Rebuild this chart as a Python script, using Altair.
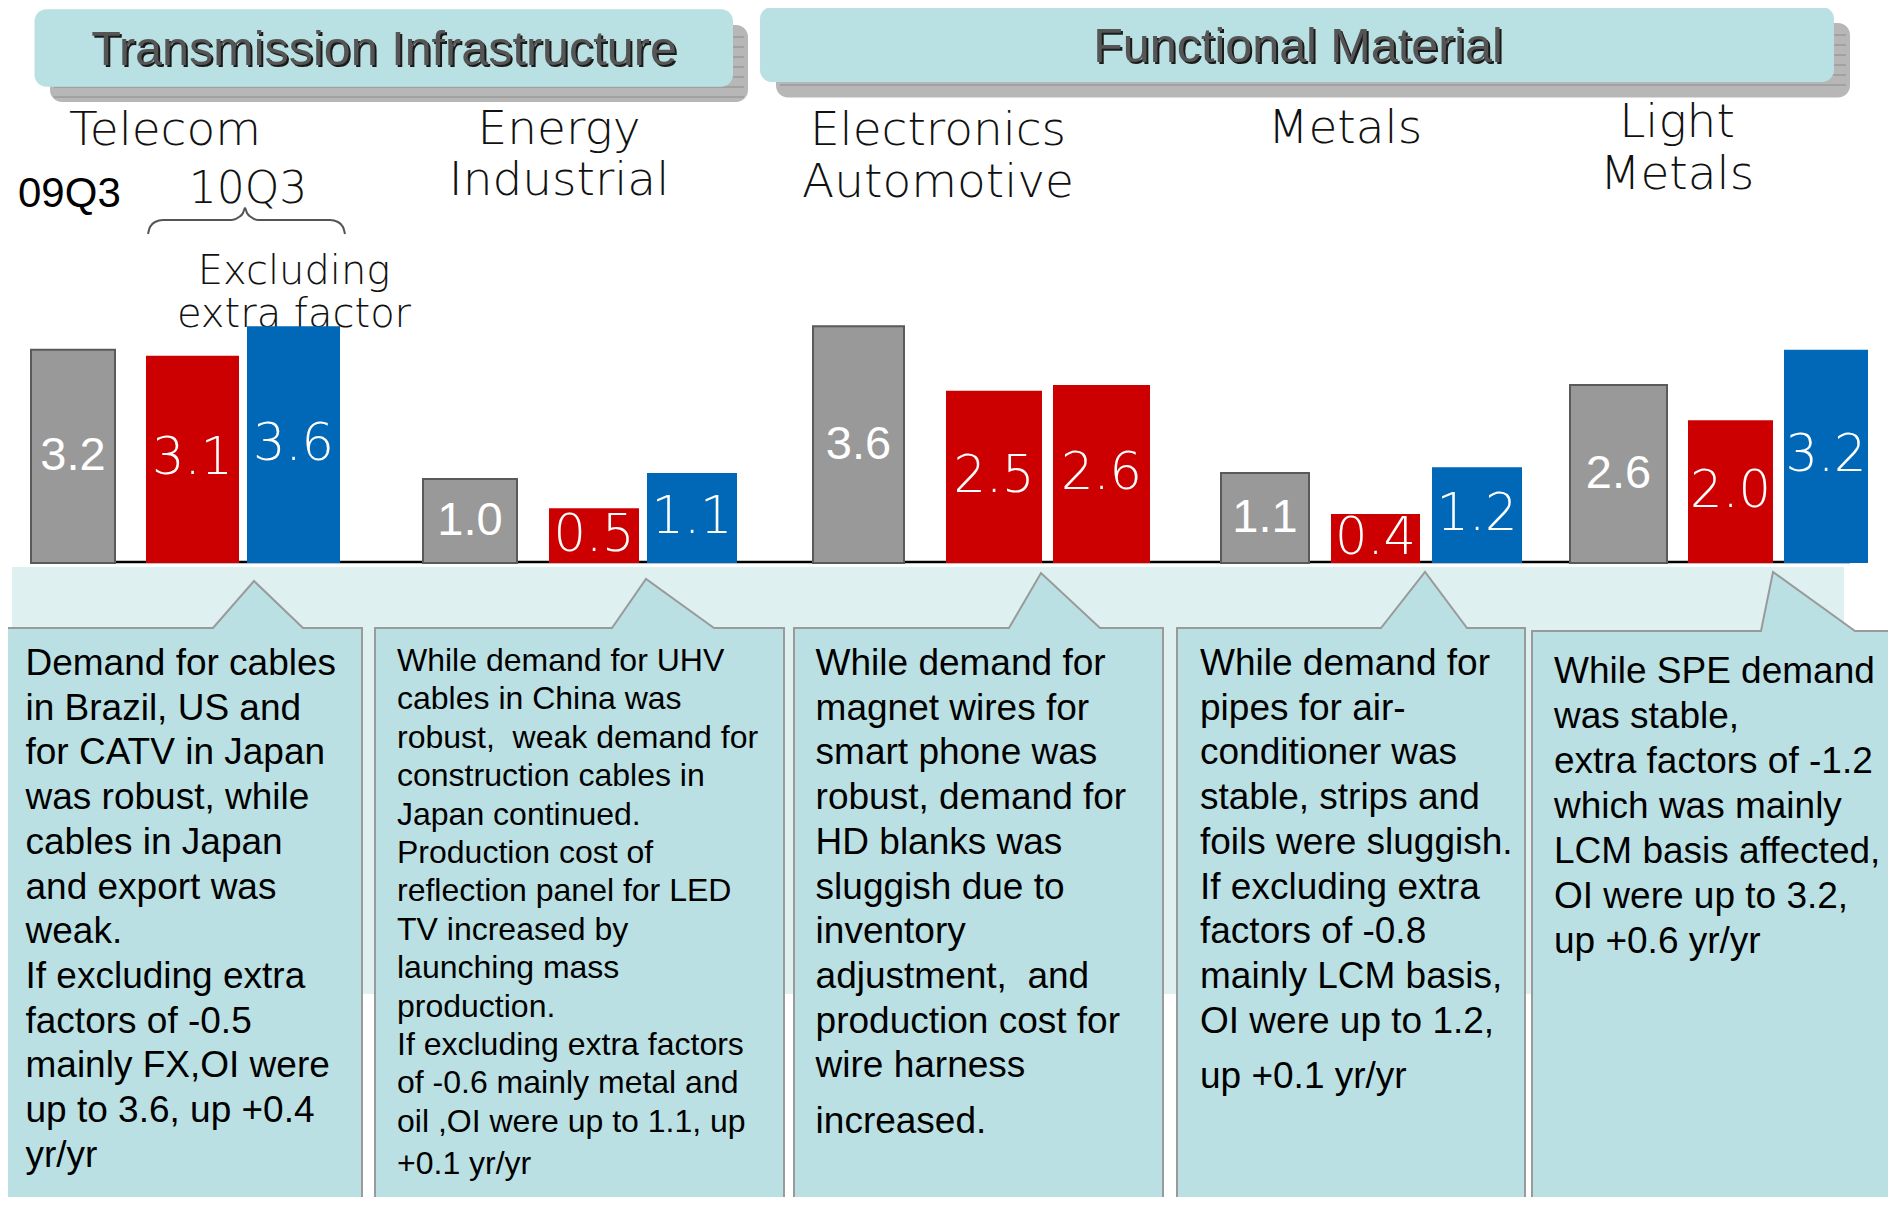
import altair as alt
import pandas as pd

# ---------------- data ----------------
SECTION_TITLES = ["Transmission Infrastructure", "Functional Material"]
GROUP_LINES = [["Telecom"], ["Energy", "Industrial"], ["Electronics", "Automotive"],
               ["Metals"], ["Light", "Metals"]]
PERIOD_LABELS = ["09Q3", "10Q3"]
NOTE_LINES = ["Excluding", "extra factor"]

BAR_GROUP = ["Telecom"] * 3 + ["Energy Industrial"] * 3 + ["Electronics Automotive"] * 3 \
    + ["Metals"] * 3 + ["Light Metals"] * 3
BAR_SERIES = ["09Q3", "10Q3", "10Q3 excluding extra factor"] * 5
BAR_VALUE = [3.2, 3.1, 3.6, 1.0, 0.5, 1.1, 3.6, 2.5, 2.6, 1.1, 0.4, 1.2, 2.6, 2.0, 3.2]
BAR_LABEL = ["3.2", "3.1", "3.6", "1.0", "0.5", "1.1", "3.6", "2.5", "2.6",
             "1.1", "0.4", "1.2", "2.6", "2.0", "3.2"]

COMMENTS = [
    ["Demand for cables", "in Brazil, US and", "for CATV in Japan", "was robust, while",
     "cables in Japan", "and export was", "weak.", "If excluding extra", "factors of -0.5",
     "mainly FX,OI were", "up to 3.6, up +0.4", "yr/yr"],
    ["While demand for UHV", "cables in China was", "robust,\u00a0 weak demand for",
     "construction cables in", "Japan continued.", "Production cost of",
     "reflection panel for LED", "TV increased by", "launching mass", "production.",
     "If excluding extra factors", "of -0.6 mainly metal and", "oil ,OI were up to 1.1, up",
     "+0.1 yr/yr"],
    ["While demand for", "magnet wires for", "smart phone was", "robust, demand for",
     "HD blanks was", "sluggish due to", "inventory", "adjustment,\u00a0 and",
     "production cost for", "wire harness", "increased."],
    ["While demand for", "pipes for air-", "conditioner was", "stable, strips and",
     "foils were sluggish.", "If excluding extra", "factors of -0.8", "mainly LCM basis,",
     "OI were up to 1.2,", "up +0.1 yr/yr"],
    ["While SPE demand", "was stable,", "extra factors of -1.2", "which was mainly",
     "LCM basis affected,", "OI were up to 3.2,", "up +0.6 yr/yr"],
]

# ---------------- layout (page pixel coordinates) ----------------
W, H = 1880, 1189
XS = alt.Scale(domain=[8, 8 + W], nice=False, zero=False)
YS = alt.Scale(domain=[8 + H, 8], nice=False, zero=False)

GRAY, RED, BLUE = "#999999", "#cc0000", "#0068b7"
BAR_FILL = [GRAY, RED, BLUE, GRAY, RED, BLUE, GRAY, RED, RED,
            GRAY, RED, BLUE, GRAY, RED, BLUE]
BAR_X0 = [31, 146, 247, 423, 549, 647, 813, 946, 1053, 1221, 1331, 1432, 1570, 1688, 1784]
BAR_X1 = [115, 239, 340, 517, 639, 737, 904, 1042, 1150, 1309, 1420, 1522, 1667, 1773, 1868]
BASE_PX = 563.0      # baseline of bars
ZERO_PX = 537.6      # where value 0 of the value scale sits
PPU = 58.7           # pixels per unit
FLOOR = -(BASE_PX - ZERO_PX) / PPU
YV = alt.Scale(domain=[0, 4], range=[ZERO_PX - 8, ZERO_PX - 8 - 4 * PPU], nice=False, zero=False)

GROUP_CX = [165, 559, 938, 1345, 1677]
GROUP_BASE = [[145], [144, 195], [145, 197], [143], [137, 189]]

HDR_BOX = [(34.5, 733, 9.3, 86.7), (760, 1834, 7, 82)]
HDR_SHADOW = [(50, 748, 25, 102), (776, 1850, 23, 97.5)]
HDR_TEXT = [(384, 65), (1298, 61.5)]

BOX_L = [5, 375, 794, 1177, 1532]
BOX_R = [362, 784, 1163, 1525, 1900]
BOX_TOP = [628, 628, 628, 628, 631]
BOX_BOTTOM = 1210
PTR = [(213, 254, 303, 581), (612, 646, 714, 579), (1009, 1041, 1100, 573),
       (1381, 1425, 1467, 572), (1761, 1773, 1855, 572)]
BOX_TX = [25.5, 397, 815.6, 1200, 1554]
BOX_FS = [37, 32, 37, 37, 37]
BOX_Y0 = [675, 671, 675, 675, 683.4]
BOX_LH = [44.7, 38.4, 44.7, 44.7, 45]
BOX_LASTGAP = [0, 4, 11, 11, 0]

BOX_FILL = "#bbe0e3"
EDGE = "#9a9a9a"


def X(f):
    return alt.X(f, type="quantitative", scale=XS, axis=None)


def Y(f):
    return alt.Y(f, type="quantitative", scale=YS, axis=None)


layers = []

# background band behind callouts
band = pd.DataFrame({"x": [12], "x2": [1844], "y": [567], "y2": [994]})
layers.append(alt.Chart(band).mark_rect(color="#dff0f1").encode(
    x=X("x"), x2="x2", y=Y("y"), y2="y2"))

# header shadows
sh = pd.DataFrame([{"x": a, "x2": b, "y": c, "y2": d} for a, b, c, d in HDR_SHADOW])
layers.append(alt.Chart(sh).mark_rect(color="#b7b7b7", cornerRadius=12).encode(
    x=X("x"), x2="x2", y=Y("y"), y2="y2"))
stripes = []
for a, b, c, d in HDR_SHADOW:
    yy = c + 12
    while yy < d - 3:
        stripes.append({"x": a + 4, "x2": b - 4, "y": yy})
        yy += 10
layers.append(alt.Chart(pd.DataFrame(stripes)).mark_rule(color="#8c8c8c", strokeWidth=1).encode(
    x=X("x"), x2="x2", y=Y("y")))

# header boxes
hb = pd.DataFrame([{"x": a, "x2": b, "y": c, "y2": d} for a, b, c, d in HDR_BOX])
layers.append(alt.Chart(hb).mark_rect(color="#b9e0e3", cornerRadius=12).encode(
    x=X("x"), x2="x2", y=Y("y"), y2="y2"))

# header titles (shadow + text)
ht = pd.DataFrame([{"x": p[0], "y": p[1], "t": t} for p, t in zip(HDR_TEXT, SECTION_TITLES)])
layers.append(alt.Chart(ht).mark_text(font="Liberation Sans", fontSize=48.5, color="#1a1a1a",
                                      baseline="alphabetic", align="center", dx=2, dy=2).encode(
    x=X("x"), y=Y("y"), text="t:N"))
layers.append(alt.Chart(ht).mark_text(font="Liberation Sans", fontSize=48.5, color="#555555",
                                      baseline="alphabetic", align="center").encode(
    x=X("x"), y=Y("y"), text="t:N"))

# group names
gr = []
for cx, lines, bases in zip(GROUP_CX, GROUP_LINES, GROUP_BASE):
    for t, b in zip(lines, bases):
        gr.append({"x": cx, "y": b, "t": t})
layers.append(alt.Chart(pd.DataFrame(gr)).mark_text(font="DejaVu Sans", fontSize=47, fontWeight=200,
                                                    color="#111111",
                                                    baseline="alphabetic", align="center").encode(
    x=X("x"), y=Y("y"), text="t:N"))

# period labels
layers.append(alt.Chart(pd.DataFrame([{"x": 18, "y": 207, "t": PERIOD_LABELS[0]}])).mark_text(
    font="Liberation Sans", fontSize=42, color="#000000", baseline="alphabetic", align="left").encode(
    x=X("x"), y=Y("y"), text="t:N"))
layers.append(alt.Chart(pd.DataFrame([{"x": 248, "y": 203, "t": PERIOD_LABELS[1]}])).mark_text(
    font="DejaVu Sans", fontSize=44, fontWeight=200, color="#111111", baseline="alphabetic",
    align="center").encode(x=X("x"), y=Y("y"), text="t:N"))

# note text
nt = pd.DataFrame([{"x": 294, "y": 284, "t": NOTE_LINES[0]}, {"x": 294, "y": 327, "t": NOTE_LINES[1]}])
layers.append(alt.Chart(nt).mark_text(font="DejaVu Sans", fontSize=40, fontWeight=200, color="#111111",
                                      baseline="alphabetic", align="center").encode(
    x=X("x"), y=Y("y"), text="t:N"))

# brace
brace = pd.DataFrame({
    "x": [148, 150, 155, 163, 232, 239, 243, 245, 247, 251, 258, 330, 338, 343, 345],
    "y": [234, 227, 222, 220, 220, 217, 213, 208, 213, 217, 220, 220, 222, 227, 234]})
layers.append(alt.Chart(brace).mark_line(color="#555555", strokeWidth=2, interpolate="monotone").encode(
    x=X("x"), y=Y("y")))

# baseline
layers.append(alt.Chart(pd.DataFrame([{"x": 31, "x2": 1850, "y": 562}])).mark_rule(
    color="#000000", strokeWidth=2.5).encode(x=X("x"), x2="x2", y=Y("y")))

# bars
bars = pd.DataFrame({"group": BAR_GROUP, "series": BAR_SERIES, "v": BAR_VALUE, "label": BAR_LABEL,
                     "x0": BAR_X0, "x1": BAR_X1, "fill": BAR_FILL})
bars["cx"] = (bars["x0"] + bars["x1"]) / 2
gray_bars = bars[bars["fill"] == GRAY]
col_bars = bars[bars["fill"] != GRAY]

layers.append(alt.Chart(gray_bars).mark_rect(color=GRAY, stroke="#5a5a5a", strokeWidth=2).encode(
    x=X("x0"), x2="x1", y=alt.Y("v:Q", scale=YV, axis=None), y2=alt.datum(FLOOR)))
layers.append(alt.Chart(col_bars).mark_rect().encode(
    x=X("x0"), x2="x1", y=alt.Y("v:Q", scale=YV, axis=None), y2=alt.datum(FLOOR),
    color=alt.Color("fill:N", scale=None)))

layers.append(alt.Chart(gray_bars).transform_calculate(mid=f"(datum.v + ({FLOOR}))/2").mark_text(
    font="Liberation Sans", fontSize=47, color="white", baseline="middle", align="center").encode(
    x=X("cx"), y=alt.Y("mid:Q", scale=YV, axis=None), text="label:N"))
layers.append(alt.Chart(col_bars).transform_calculate(mid=f"(datum.v + ({FLOOR}))/2").mark_text(
    font="DejaVu Sans", fontSize=51, fontWeight=200, color="white",
    baseline="middle", align="center").encode(
    x=X("cx"), y=alt.Y("mid:Q", scale=YV, axis=None), text="label:N"))

# callout boxes
rects = pd.DataFrame([{"x": l, "x2": r, "y": t, "y2": BOX_BOTTOM}
                      for l, r, t in zip(BOX_L, BOX_R, BOX_TOP)])
layers.append(alt.Chart(rects).mark_rect(color=BOX_FILL).encode(
    x=X("x"), x2="x2", y=Y("y"), y2="y2"))
tri = []
for i, (a, ax, b, ay) in enumerate(PTR):
    t = BOX_TOP[i]
    tri += [{"box": i, "x": a, "y": t, "y2": t + 1}, {"box": i, "x": ax, "y": ay, "y2": t + 1},
            {"box": i, "x": b, "y": t, "y2": t + 1}]
layers.append(alt.Chart(pd.DataFrame(tri)).mark_area(color=BOX_FILL).encode(
    x=X("x"), y=Y("y"), y2="y2", detail="box:N"))
outl = []
for i, (a, ax, b, ay) in enumerate(PTR):
    l, r, t = BOX_L[i], BOX_R[i], BOX_TOP[i]
    pts = [(l, BOX_BOTTOM), (l, t), (a, t), (ax, ay), (b, t), (r, t), (r, BOX_BOTTOM)]
    for k, (px, py) in enumerate(pts):
        outl.append({"box": i, "o": k, "x": px, "y": py})
layers.append(alt.Chart(pd.DataFrame(outl)).mark_line(color=EDGE, strokeWidth=2).encode(
    x=X("x"), y=Y("y"), detail="box:N", order="o:Q"))

# callout texts
tx = []
for i, lines in enumerate(COMMENTS):
    for k, line in enumerate(lines):
        y = BOX_Y0[i] + BOX_LH[i] * k + (BOX_LASTGAP[i] if k == len(lines) - 1 else 0)
        tx.append({"x": BOX_TX[i], "y": y, "t": line, "fs": BOX_FS[i]})
layers.append(alt.Chart(pd.DataFrame(tx)).mark_text(font="Liberation Sans", color="#000000",
                                                    baseline="alphabetic", align="left").encode(
    x=X("x"), y=Y("y"), text="t:N", size=alt.Size("fs:Q", scale=None)))

chart = alt.layer(*layers).resolve_scale(y="independent").properties(
    width=W, height=H, padding=0, autosize="none", background="white"
).configure_view(stroke=None)

chart.save("out.html", embed_options={"renderer": "svg", "actions": False})
